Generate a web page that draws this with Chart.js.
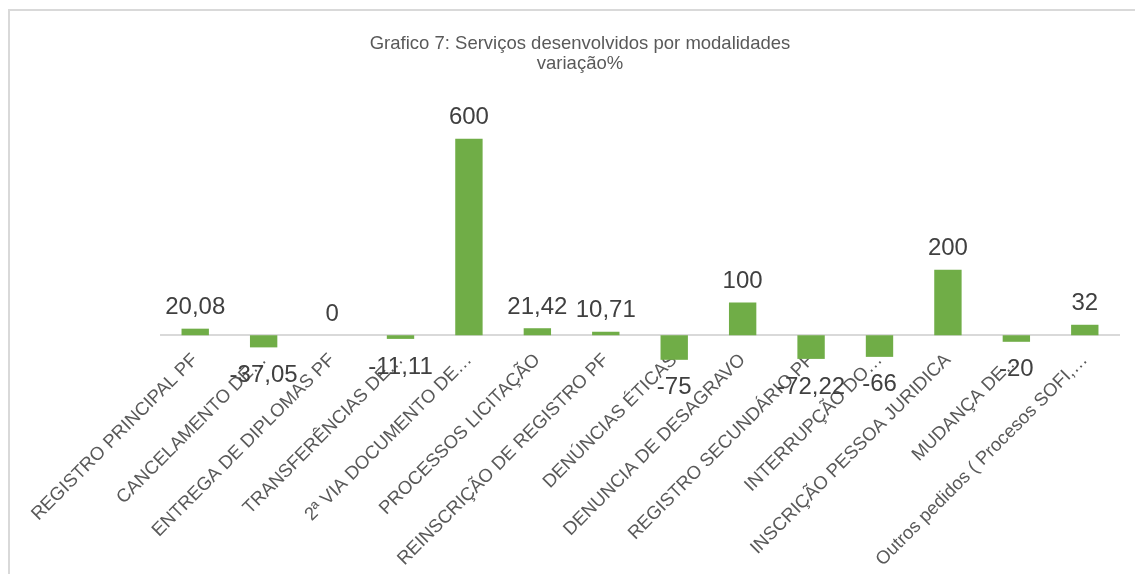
<!DOCTYPE html>
<html>
<head>
<meta charset="utf-8">
<script src="https://cdn.jsdelivr.net/npm/chart.js@4.4.1/dist/chart.umd.min.js"></script>
<style>
  html, body { margin: 0; padding: 0; background: #ffffff; overflow: hidden; width: 1135px; height: 574px; }
  #frame { position: absolute; left: 8px; top: 9px; width: 2000px; height: 2000px; border-left: 2px solid #d9d9d9; border-top: 2px solid #d9d9d9; }
  #wrap { position: absolute; left: 0; top: 0; width: 1160px; height: 574px; }
  #title { position: absolute; left: 0; top: 33px; width: 1160px; text-align: center;
           font-family: 'Liberation Sans', Arial, sans-serif; font-size: 18.5px; line-height: 19.5px; color: #595959; }
</style>
</head>
<body>
<div id="frame"></div>
<div id="wrap"><canvas id="c" width="1160" height="574"></canvas></div>
<div id="title"></div>
<script>
const categories = [
  "REGISTRO PRINCIPAL PF",
  "CANCELAMENTO DE…",
  "ENTREGA DE DIPLOMAS PF",
  "TRANSFERÊNCIAS DE…",
  "2ª VIA DOCUMENTO DE…",
  "PROCESSOS LICITAÇÃO",
  "REINSCRIÇÃO DE REGISTRO PF",
  "DENÚNCIAS ÉTICAS",
  "DENUNCIA DE DESAGRAVO",
  "REGISTRO SECUNDÁRIO PF",
  "INTERRUPÇÃO DO…",
  "INSCRIÇÃO PESSOA JURIDICA",
  "MUDANÇA DE…",
  "Outros pedidos ( Procesos SOFI,…"
];
const variacao = [20.08, -37.05, 0, -11.11, 600, 21.42, 10.71, -75, 100, -72.22, -66, 200, -20, 32];
const titleLines = ["Grafico 7: Serviços desenvolvidos por modalidades", "variação%"];

const titleEl = document.getElementById('title');
titleLines.forEach(t => { const d = document.createElement('div'); d.textContent = t; titleEl.appendChild(d); });

const FONT = "'Liberation Sans', Arial, sans-serif";

const dataLabels = {
  id: 'dataLabels',
  afterDatasetsDraw(chart) {
    const ctx = chart.ctx;
    const meta = chart.getDatasetMeta(0);
    const ds = chart.data.datasets[0];
    ctx.save();
    ctx.font = "24px " + FONT;
    ctx.fillStyle = "#404040";
    ctx.textAlign = "center";
    ctx.textBaseline = "middle";
    meta.data.forEach((bar, i) => {
      const v = ds.data[i];
      const txt = String(v).replace('.', ',');
      const y = v >= 0 ? bar.y - 21 : bar.y + 28;
      ctx.fillText(txt, bar.x, y);
    });
    ctx.restore();
  }
};

new Chart(document.getElementById('c'), {
  type: 'bar',
  data: {
    labels: categories,
    datasets: [{
      data: variacao,
      backgroundColor: '#70AD47',
      borderWidth: 0,
      categoryPercentage: 0.4,
      barPercentage: 1.0
    }]
  },
  options: {
    responsive: false,
    animation: false,
    devicePixelRatio: 1,
    layout: { padding: { left: 161, right: 41, top: 106, bottom: 206 } },
    plugins: {
      legend: { display: false },
      tooltip: { enabled: false },
      title: { display: false }
    },
    scales: {
      y: {
        display: false,
        min: -100,
        max: 700
      },
      x: {
        position: { y: 0 },
        grid: { display: false, drawTicks: false },
        border: { display: true, color: '#d9d9d9', width: 2 },
        ticks: {
          autoSkip: false,
          maxRotation: 45,
          minRotation: 45,
          padding: 14,
          color: '#595959',
          font: { family: FONT, size: 18.5 }
        }
      }
    }
  },
  plugins: [dataLabels]
});
</script>
</body>
</html>
